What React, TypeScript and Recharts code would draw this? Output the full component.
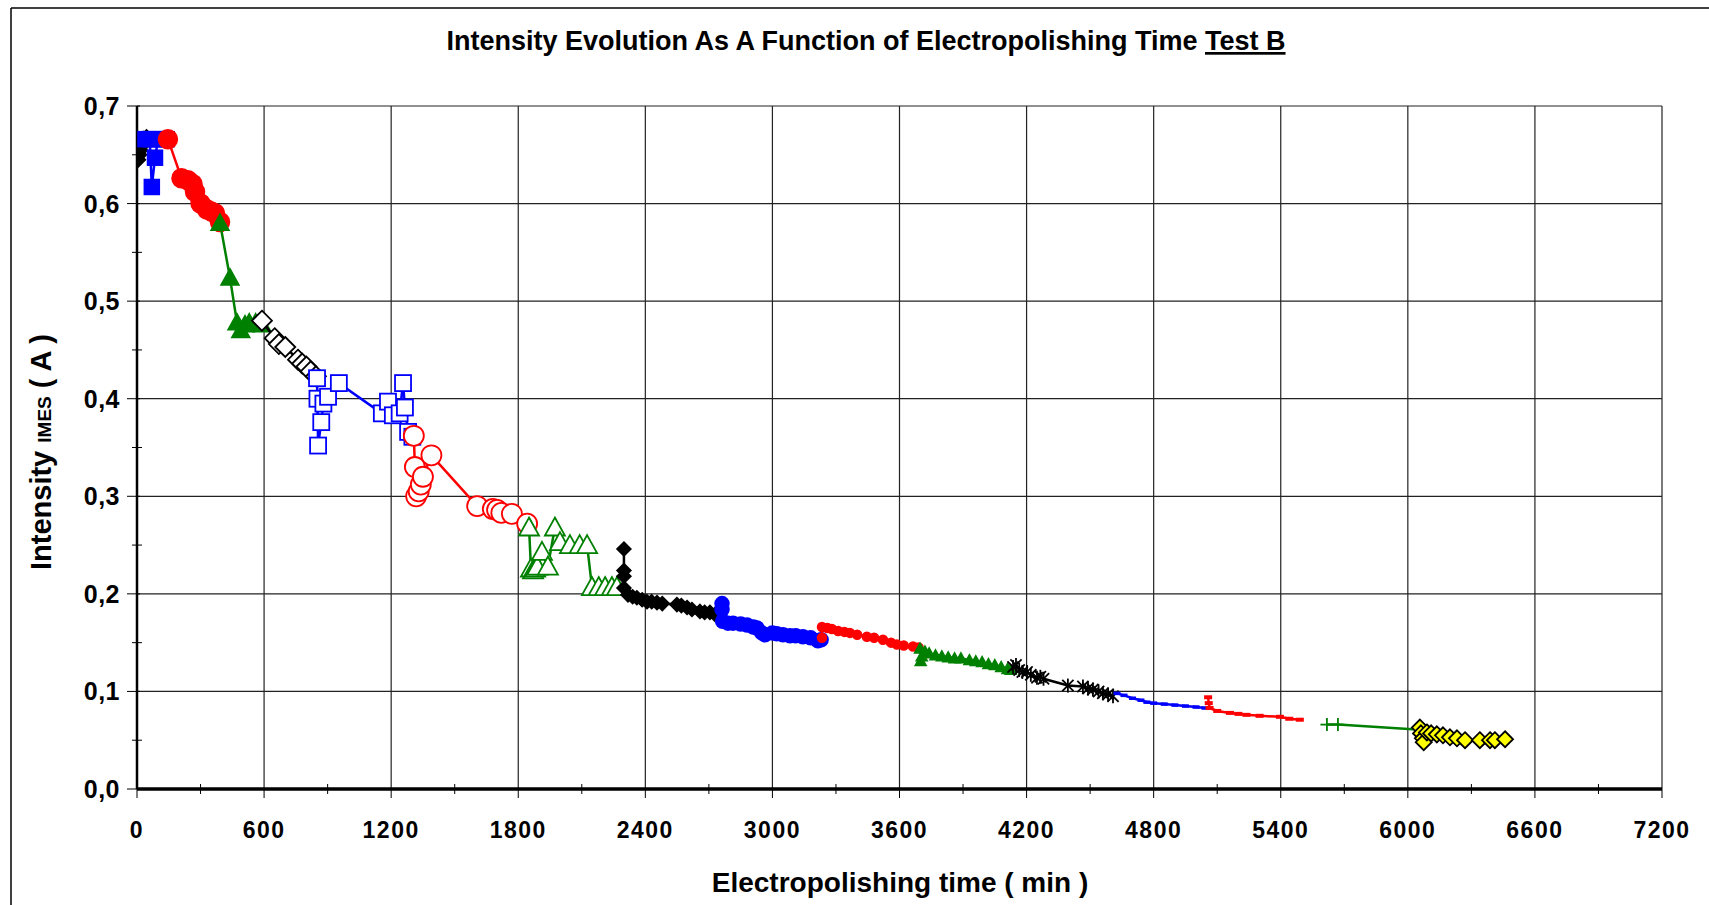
import React from 'react'
import { ScatterChart, Scatter, XAxis, YAxis, CartesianGrid } from 'recharts'

// time (min) / intensity (A) per run segment
const blackStartT = [0, 5, 10, 20, 30, 45]
const blackStartI = [0.645, 0.65, 0.655, 0.66, 0.665, 0.667]

const blueSqT = [40, 60, 70, 85, 100, 120, 140]
const blueSqI = [0.666, 0.666, 0.617, 0.647, 0.666, 0.666, 0.666]

const redDotT = [146, 210, 240, 262, 274, 300, 330, 350, 368, 392]
const redDotI = [0.666, 0.626, 0.624, 0.62, 0.612, 0.6, 0.594, 0.592, 0.59, 0.581]

const greenTriT = [392, 439, 472, 490, 510, 530, 560, 590]
const greenTriI = [0.58, 0.524, 0.478, 0.47, 0.476, 0.478, 0.478, 0.476]

const openDiaT = [590, 650, 670, 700, 760, 780, 800, 820, 845]
const openDiaI = [0.48, 0.462, 0.456, 0.453, 0.44, 0.436, 0.433, 0.428, 0.423]

const openSqT = [850, 852, 855, 870, 880, 902, 953, 1156, 1185, 1208, 1240, 1256, 1265, 1280, 1300]
const openSqI = [0.421, 0.4, 0.352, 0.376, 0.395, 0.402, 0.416, 0.385, 0.397, 0.383, 0.385, 0.416, 0.391, 0.366, 0.361]

const openCircT = [1307, 1312, 1318, 1330, 1340, 1350, 1390, 1606, 1680, 1700, 1720, 1770, 1842]
const openCircI = [0.362, 0.33, 0.3, 0.305, 0.312, 0.32, 0.342, 0.29, 0.287, 0.286, 0.283, 0.282, 0.272]

const openTriT = [1851, 1860, 1870, 1880, 1890, 1912, 1940, 1973, 1997, 2044, 2090, 2125, 2148, 2180, 2210, 2242, 2266]
const openTriI = [0.268, 0.226, 0.224, 0.226, 0.228, 0.243, 0.228, 0.268, 0.253, 0.25, 0.25, 0.25, 0.207, 0.207, 0.207, 0.207, 0.207]

const smallDiaT = [2299, 2299, 2299, 2299, 2318, 2340, 2360, 2385, 2408, 2430, 2455, 2480, 2549, 2570, 2597, 2620, 2658, 2680, 2705, 2729]
const smallDiaI = [0.246, 0.224, 0.218, 0.206, 0.199, 0.197, 0.196, 0.194, 0.192, 0.192, 0.191, 0.19, 0.189, 0.188, 0.186, 0.184, 0.182, 0.181, 0.181, 0.179]

const blueDotT = [2762, 2762, 2765, 2790, 2814, 2850, 2880, 2910, 2927, 2950, 2965, 3000, 3021, 3050, 3083, 3110, 3144, 3180, 3215, 3230]
const blueDotI = [0.19, 0.184, 0.172, 0.17, 0.17, 0.169, 0.168, 0.166, 0.165, 0.16, 0.158, 0.16, 0.159, 0.158, 0.157, 0.157, 0.156, 0.155, 0.152, 0.153]

const redSmallT = [3234, 3234, 3260, 3281, 3310, 3340, 3366, 3400, 3446, 3480, 3522, 3560, 3588, 3620, 3664, 3690]
const redSmallI = [0.155, 0.166, 0.165, 0.164, 0.162, 0.161, 0.16, 0.158, 0.156, 0.155, 0.153, 0.15, 0.148, 0.147, 0.146, 0.145]

const greenSmallT = [3697, 3700, 3705, 3720, 3740, 3770, 3800, 3830, 3860, 3890, 3930, 3960, 3990, 4020, 4050, 4080, 4110, 4125]
const greenSmallI = [0.144, 0.131, 0.136, 0.141, 0.139, 0.137, 0.136, 0.135, 0.134, 0.134, 0.132, 0.131, 0.13, 0.128, 0.127, 0.125, 0.123, 0.122]

const starT = [4136, 4150, 4165, 4180, 4202, 4220, 4249, 4265, 4280, 4395, 4466, 4490, 4513, 4540, 4560, 4585, 4608]
const starI = [0.125, 0.127, 0.122, 0.12, 0.12, 0.117, 0.114, 0.115, 0.113, 0.106, 0.105, 0.103, 0.102, 0.1, 0.098, 0.097, 0.095]

const blueThinT = [4627, 4660, 4700, 4740, 4768, 4800, 4850, 4900, 4950, 5000, 5042]
const blueThinI = [0.098, 0.096, 0.093, 0.091, 0.089, 0.088, 0.087, 0.086, 0.085, 0.084, 0.083]

const redThinT = [5057, 5060, 5064, 5100, 5160, 5200, 5238, 5300, 5396, 5440, 5490]
const redThinI = [0.094, 0.088, 0.083, 0.08, 0.078, 0.077, 0.076, 0.075, 0.074, 0.072, 0.071]

const plusT = [5618, 5670, 6040]
const plusI = [0.066, 0.066, 0.061]

const yellowT = [6057, 6062, 6071, 6075, 6090, 6110, 6137, 6166, 6199, 6232, 6270, 6340, 6388, 6411, 6459]
const yellowI = [0.063, 0.057, 0.052, 0.048, 0.058, 0.057, 0.056, 0.055, 0.053, 0.052, 0.05, 0.05, 0.05, 0.05, 0.051]

const xTicks = [0, 300, 600, 900, 1200, 1500, 1800, 2100, 2400, 2700, 3000, 3300, 3600, 3900, 4200, 4500, 4800, 5100, 5400, 5700, 6000, 6300, 6600, 6900, 7200]
const yTicks = [0, 0.05, 0.1, 0.15, 0.2, 0.25, 0.3, 0.35, 0.4, 0.45, 0.5, 0.55, 0.6, 0.65, 0.7]

const W = 1709
const H = 905
const PL = 137
const PR = 1662
const PT = 106
const PB = 789
const FONT = '"Liberation Sans", Arial, sans-serif'

const zip = (t: number[], i: number[]) => t.map((v, k) => ({ t: v, i: i[k] }))

function mk(kind: string, size: number, fill: string, stroke: string, sw = 1.5, skipLast = false, total = 0) {
  return (p: any) => {
    const { cx, cy, index } = p
    if (cx == null || cy == null) return <g />
    if (skipLast && index === total - 1) return <g />
    const h = size / 2
    switch (kind) {
      case 'diamond':
        return <polygon points={`${cx},${cy - h} ${cx + h},${cy} ${cx},${cy + h} ${cx - h},${cy}`} fill={fill} stroke={stroke} strokeWidth={sw} />
      case 'square':
        return <rect x={cx - h} y={cy - h} width={size} height={size} fill={fill} stroke={stroke} strokeWidth={sw} />
      case 'circle':
        return <circle cx={cx} cy={cy} r={h} fill={fill} stroke={stroke} strokeWidth={sw} />
      case 'triangle':
        return <polygon points={`${cx},${cy - h} ${cx + h},${cy + h * 0.8} ${cx - h},${cy + h * 0.8}`} fill={fill} stroke={stroke} strokeWidth={sw} />
      case 'star':
        return (
          <g stroke={stroke} strokeWidth={sw}>
            <line x1={cx} y1={cy - h} x2={cx} y2={cy + h} />
            <line x1={cx - h * 0.8} y1={cy - h * 0.8} x2={cx + h * 0.8} y2={cy + h * 0.8} />
            <line x1={cx - h * 0.8} y1={cy + h * 0.8} x2={cx + h * 0.8} y2={cy - h * 0.8} />
          </g>
        )
      case 'plus':
        return (
          <g stroke={stroke} strokeWidth={sw}>
            <line x1={cx} y1={cy - h} x2={cx} y2={cy + h} />
            <line x1={cx - h} y1={cy} x2={cx + h} y2={cy} />
          </g>
        )
      default:
        return <rect x={cx - h} y={cy - h / 2} width={size} height={h} fill={fill} stroke="none" />
    }
  }
}

const series = [
  { key: 'a', data: zip(blackStartT, blackStartI), color: '#000', shape: mk('diamond', 17, '#000', '#000') },
  { key: 'b', data: zip(blueSqT, blueSqI), color: '#0000FF', shape: mk('square', 15, '#0000FF', '#0000FF') },
  { key: 'c', data: zip(redDotT, redDotI), color: '#FF0000', shape: mk('circle', 19, '#FF0000', '#FF0000') },
  { key: 'd', data: zip(greenTriT, greenTriI), color: '#008000', shape: mk('triangle', 18, '#008000', '#008000') },
  { key: 'e', data: zip(openDiaT, openDiaI), color: '#000', shape: mk('diamond', 20, '#fff', '#000', 1.8) },
  { key: 'f', data: zip(openSqT, openSqI), color: '#0000FF', shape: mk('square', 16, '#fff', '#0000FF', 1.8) },
  { key: 'g', data: zip(openCircT, openCircI), color: '#FF0000', shape: mk('circle', 20, '#fff', '#FF0000', 1.8) },
  { key: 'h', data: zip(openTriT, openTriI), color: '#008000', shape: mk('triangle', 20, '#fff', '#008000', 1.8) },
  { key: 'i', data: zip(smallDiaT, smallDiaI), color: '#000', shape: mk('diamond', 14, '#000', '#000') },
  { key: 'j', data: zip(blueDotT, blueDotI), color: '#0000FF', shape: mk('circle', 14, '#0000FF', '#0000FF') },
  { key: 'k', data: zip(redSmallT, redSmallI), color: '#FF0000', shape: mk('circle', 9, '#FF0000', '#FF0000') },
  { key: 'l', data: zip(greenSmallT, greenSmallI), color: '#008000', shape: mk('triangle', 11, '#008000', '#008000') },
  { key: 'm', data: zip(starT, starI), color: '#000', shape: mk('star', 14, '#000', '#000', 1.8) },
  { key: 'n', data: zip(blueThinT, blueThinI), color: '#0000FF', shape: mk('dash', 7, '#0000FF', '#0000FF') },
  { key: 'o', data: zip(redThinT, redThinI), color: '#FF0000', shape: mk('dash', 8, '#FF0000', '#FF0000') },
  { key: 'p', data: zip(plusT, plusI), color: '#008000', shape: mk('plus', 13, '#008000', '#008000', 1.8, true, plusT.length) },
  { key: 'q', data: zip(yellowT, yellowI), color: '#000', shape: mk('diamond', 16, '#FFFF00', '#000', 1.8) },
]

const XTick = (p: any) => {
  const { x, y, payload } = p
  const v = payload.value
  const major = v % 600 === 0
  return (
    <g>
      {major ? <line x1={x} y1={y} x2={x} y2={y + 9} stroke="#000" strokeWidth={1} /> : <line x1={x} y1={y - 5} x2={x} y2={y + 5} stroke="#000" strokeWidth={1} />}
      {major && (
        <text x={x} y={y + 49} textAnchor="middle" fontFamily={FONT} fontWeight="bold" fontSize={23} letterSpacing={1.5} fill="#000">
          {v}
        </text>
      )}
    </g>
  )
}

const YTick = (p: any) => {
  const { x, y, payload } = p
  const v = payload.value
  const major = Math.round(v * 100) % 10 === 0
  return (
    <g>
      {major ? <line x1={x - 10} y1={y} x2={x + 3} y2={y} stroke="#000" strokeWidth={1} /> : <line x1={x - 5} y1={y} x2={x + 5} y2={y} stroke="#000" strokeWidth={1} />}
      {major && (
        <text x={x - 17} y={y + 9} textAnchor="end" fontFamily={FONT} fontWeight="bold" fontSize={25} letterSpacing={0.5} fill="#000">
          {v.toFixed(1).replace('.', ',')}
        </text>
      )}
    </g>
  )
}

const vPoints = Array.from({ length: 12 }, (_, k) => PL + ((k + 1) * (PR - PL)) / 12)
const hPoints = Array.from({ length: 7 }, (_, k) => PT + (k * (PB - PT)) / 7)

export default function App() {
  return (
    <div style={{ position: 'absolute', left: 0, top: 0, width: W, height: H, background: '#fff' }}>
      <ScatterChart width={W} height={H} margin={{ top: PT, right: W - PR, bottom: H - PB - 60, left: PL - 60 }}>
        <CartesianGrid horizontalPoints={hPoints} verticalPoints={vPoints} stroke="#222" strokeWidth={1.2} />
        <XAxis
          type="number"
          dataKey="t"
          domain={[0, 7200]}
          ticks={xTicks}
          interval={0}
          height={60}
          tickSize={0}
          tickMargin={0}
          tickLine={false}
          axisLine={{ stroke: '#000', strokeWidth: 3.5 }}
          tick={<XTick />}
          allowDataOverflow
        />
        <YAxis
          type="number"
          dataKey="i"
          domain={[0, 0.7]}
          ticks={yTicks}
          interval={0}
          width={60}
          tickSize={0}
          tickMargin={0}
          tickLine={false}
          axisLine={{ stroke: '#000', strokeWidth: 2.5 }}
          tick={<YTick />}
          allowDataOverflow
        />
        {series.map(s => (
          <Scatter
            key={s.key}
            data={s.data}
            line={{ stroke: s.color, strokeWidth: 2.5 }}
            lineType="joint"
            shape={s.shape}
            isAnimationActive={false}
          />
        ))}
      </ScatterChart>
      <svg width={W} height={H} style={{ position: 'absolute', left: 0, top: 0, pointerEvents: 'none' }}>
        <line x1={11} y1={8} x2={W} y2={8} stroke="#000" strokeWidth={1.5} />
        <line x1={11} y1={8} x2={11} y2={H} stroke="#000" strokeWidth={1.5} />
        <text x={866} y={50} textAnchor="middle" fontFamily={FONT} fontWeight="bold" fontSize={27} fill="#000">
          Intensity Evolution As A Function of Electropolishing Time{' '}
          <tspan textDecoration="underline">Test B</tspan>
        </text>
        <text x={900} y={892} textAnchor="middle" fontFamily={FONT} fontWeight="bold" fontSize={28} fill="#000">
          Electropolishing time  ( min )
        </text>
        <text x={0} y={0} transform="translate(51,452) rotate(-90)" textAnchor="middle" fontFamily={FONT} fontWeight="bold" fontSize={29} fill="#000">
          Intensity <tspan fontSize={19}>IMES</tspan>  ( A )
        </text>
      </svg>
    </div>
  )
}
